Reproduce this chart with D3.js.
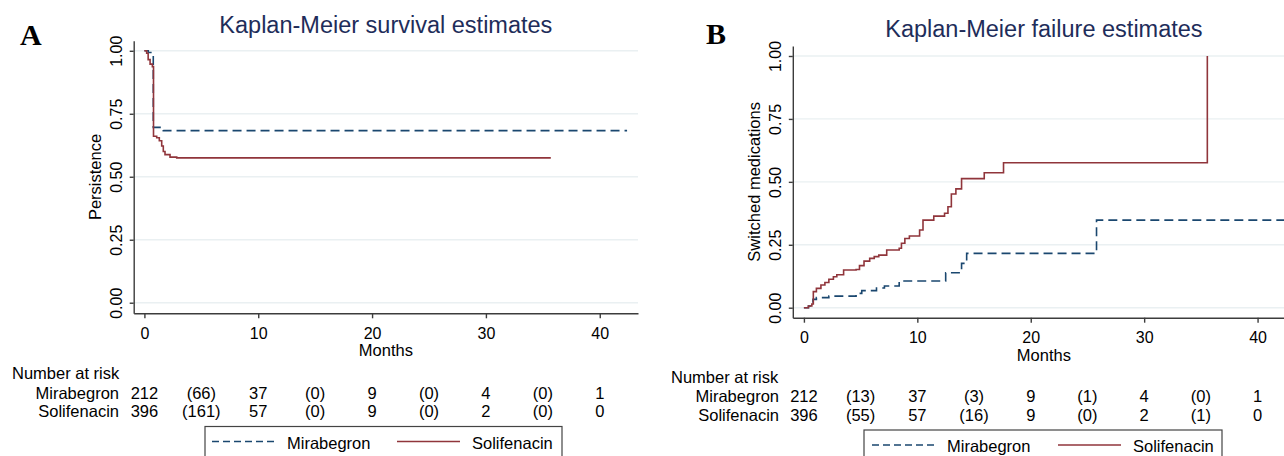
<!DOCTYPE html>
<html>
<head>
<meta charset="utf-8">
<script src="https://cdn.jsdelivr.net/npm/d3@7"></script>
<style>
    body { margin: 0; background: #fff; }
    svg { display: block; font-family: "Liberation Sans", Arial, sans-serif; }
</style>
</head>
<body>
<div id="chart"></div>
<script>
// ---- data ----
const groups = ['Mirabegron', 'Solifenacin'];
const xTicks = [0, 10, 20, 30, 40];
const yTicks = [0, 0.25, 0.5, 0.75, 1];
const riskTimes = [0, 5, 10, 15, 20, 25, 30, 35, 40];

// A: survival (persistence), step points {t: months, s: estimate}
const survMira = [
    { t: 0, s: 1 }, { t: 0.34, s: 0.993 }, { t: 0.78, s: 0.696 },
    { t: 1.66, s: 0.683 }, { t: 42.4, s: 0.683 }
];
const survSoli = [
    { t: 0, s: 1 }, { t: 0.2, s: 0.99 }, { t: 0.33, s: 0.965 }, { t: 0.5, s: 0.947 },
    { t: 0.7, s: 0.937 }, { t: 0.8, s: 0.661 }, { t: 1.08, s: 0.655 }, { t: 1.31, s: 0.643 },
    { t: 1.52, s: 0.622 }, { t: 1.66, s: 0.6 }, { t: 1.81, s: 0.588 }, { t: 2.25, s: 0.578 },
    { t: 2.84, s: 0.575 }, { t: 35.7, s: 0.575 }
];

// B: failure (switched medications)
const failMira = [
    { t: 0, s: 0 }, { t: 0.4, s: 0.007 }, { t: 0.8, s: 0.033 }, { t: 1.1, s: 0.04 },
    { t: 2.2, s: 0.046 }, { t: 4.6, s: 0.057 }, { t: 5.1, s: 0.068 }, { t: 6.4, s: 0.078 },
    { t: 7.1, s: 0.086 }, { t: 8.4, s: 0.106 }, { t: 12.5, s: 0.139 }, { t: 13.9, s: 0.176 },
    { t: 14.35, s: 0.216 }, { t: 25.8, s: 0.348 }, { t: 43.3, s: 0.348 }
];
const failSoli = [
    { t: 0, s: 0 }, { t: 0.4, s: 0.007 }, { t: 0.7, s: 0.015 }, { t: 0.83, s: 0.064 },
    { t: 1.1, s: 0.077 }, { t: 1.5, s: 0.09 }, { t: 1.85, s: 0.1 }, { t: 2.2, s: 0.113 },
    { t: 2.6, s: 0.123 }, { t: 2.9, s: 0.131 }, { t: 3.5, s: 0.15 }, { t: 4.6, s: 0.152 },
    { t: 4.9, s: 0.167 }, { t: 5.3, s: 0.185 }, { t: 5.8, s: 0.196 }, { t: 6.2, s: 0.203 },
    { t: 6.6, s: 0.209 }, { t: 7.3, s: 0.229 }, { t: 8.4, s: 0.236 }, { t: 8.6, s: 0.256 },
    { t: 8.9, s: 0.275 }, { t: 9.3, s: 0.285 }, { t: 10.2, s: 0.309 }, { t: 10.5, s: 0.348 },
    { t: 11.45, s: 0.364 }, { t: 12.4, s: 0.375 }, { t: 12.7, s: 0.401 }, { t: 13.0, s: 0.452 },
    { t: 13.4, s: 0.472 }, { t: 13.9, s: 0.513 }, { t: 15.9, s: 0.536 }, { t: 17.6, s: 0.576 },
    { t: 35.57, s: 1.0 }
];

// number at risk (censored counts in brackets)
const riskMiraA = ['212', '(66)', '37', '(0)', '9', '(0)', '4', '(0)', '1'];
const riskSoliA = ['396', '(161)', '57', '(0)', '9', '(0)', '2', '(0)', '0'];
const riskMiraB = ['212', '(13)', '37', '(3)', '9', '(1)', '4', '(0)', '1'];
const riskSoliB = ['396', '(55)', '57', '(16)', '9', '(0)', '2', '(1)', '0'];

const colors = { Mirabegron: '#1a476f', Solifenacin: '#90353b' };

class KMPlot {
    constructor(_config, _data) {
        this.config = _config;
        this.data = _data;
        this.initVis();
    }

    initVis() {
        let vis = this;
        let c = vis.config;

        vis.xScale = d3.scaleLinear()
            .domain([c.xMin, c.xMax])
            .range([c.left, c.right]);
        vis.yScale = d3.scaleLinear()
            .domain([c.yMin, c.yMax])
            .range([c.bottom, c.top]);

        vis.g = c.svg.append('g');

        // panel letter
        vis.g.append('text')
            .attr('x', c.letterX).attr('y', c.letterY)
            .attr('font-family', '"Liberation Serif", "Times New Roman", serif')
            .attr('font-weight', 'bold')
            .attr('font-size', 30)
            .text(c.letter);

        // title
        vis.g.append('text')
            .attr('x', (c.left + c.right) / 2).attr('y', c.titleY)
            .attr('text-anchor', 'middle')
            .attr('font-size', 23.5)
            .attr('fill', '#1e2d5a')
            .text(c.title);

        // gridlines
        vis.g.append('g')
            .selectAll('line')
            .data(yTicks)
            .join('line')
            .attr('x1', c.left).attr('x2', c.right)
            .attr('y1', d => vis.yScale(d)).attr('y2', d => vis.yScale(d))
            .attr('stroke', '#eaf0f2')
            .attr('stroke-width', 1.4);

        vis.renderVis();
    }

    renderVis() {
        let vis = this;
        let c = vis.config;

        let line = d3.line()
            .x(d => vis.xScale(d.t))
            .y(d => vis.yScale(d.s))
            .curve(d3.curveStepAfter);

        vis.g.selectAll('.curve')
            .data(vis.data)
            .join('path')
            .attr('class', 'curve')
            .attr('d', d => line(d.values))
            .attr('fill', 'none')
            .attr('stroke', d => colors[d.name])
            .attr('stroke-width', 1.6)
            .attr('stroke-dasharray', d => d.name === 'Mirabegron' ? '9,5' : null);

        // axes
        let xAxis = d3.axisBottom(vis.xScale)
            .tickValues(xTicks).tickSize(5).tickSizeOuter(0);
        let yAxis = d3.axisLeft(vis.yScale)
            .tickValues(yTicks).tickSize(4).tickSizeOuter(0)
            .tickFormat(d3.format('.2f'));

        let xAxisG = vis.g.append('g')
            .attr('transform', `translate(0,${c.bottom})`)
            .call(xAxis);
        xAxisG.selectAll('text')
            .attr('y', c.xLabelY - c.bottom).attr('dy', 0)
            .attr('font-size', 16).attr('fill', '#000')
            .attr('font-family', '"Liberation Sans", Arial, sans-serif');

        let yAxisG = vis.g.append('g')
            .attr('transform', `translate(${c.left},0)`)
            .call(yAxis);
        yAxisG.selectAll('text')
            .attr('x', 0).attr('dy', 0)
            .attr('transform', 'translate(-12,0) rotate(-90)')
            .attr('text-anchor', 'middle')
            .attr('font-size', 16).attr('fill', '#000')
            .attr('font-family', '"Liberation Sans", Arial, sans-serif');

        [xAxisG, yAxisG].forEach(a => {
            a.selectAll('path, line').attr('stroke', '#3c3c3c').attr('stroke-width', 1.4);
        });

        // axis titles
        vis.g.append('text')
            .attr('x', (c.left + c.right) / 2).attr('y', c.monthsY)
            .attr('text-anchor', 'middle')
            .attr('font-size', 16.5)
            .text('Months');

        vis.g.append('text')
            .attr('transform', `translate(${c.yTitleX},${(c.top + c.bottom) / 2}) rotate(-90)`)
            .attr('text-anchor', 'middle')
            .attr('font-size', 16.5)
            .text(c.yTitle);

        // number at risk table
        vis.g.append('text')
            .attr('x', c.riskLeft).attr('y', c.riskY[0])
            .attr('font-size', 16.5)
            .text('Number at risk');

        groups.forEach((name, i) => {
            let row = vis.g.append('g');
            row.append('text')
                .attr('x', c.riskLabelRight).attr('y', c.riskY[i + 1])
                .attr('text-anchor', 'end')
                .attr('font-size', 16.5)
                .text(name);
            row.selectAll('.cell')
                .data(c.risk[i])
                .join('text')
                .attr('class', 'cell')
                .attr('x', (d, j) => vis.xScale(riskTimes[j]))
                .attr('y', c.riskY[i + 1])
                .attr('text-anchor', 'middle')
                .attr('font-size', 16.5)
                .text(d => d);
        });

        // legend
        let lg = c.legend;
        let leg = vis.g.append('g');
        leg.append('rect')
            .attr('x', lg.x).attr('y', lg.y)
            .attr('width', lg.w).attr('height', 40)
            .attr('fill', '#fff')
            .attr('stroke', '#444').attr('stroke-width', 1.2);
        groups.forEach((name, i) => {
            let x0 = lg.x + lg.items[i];
            leg.append('line')
                .attr('x1', x0).attr('x2', x0 + 63)
                .attr('y1', lg.y + 15).attr('y2', lg.y + 15)
                .attr('stroke', colors[name])
                .attr('stroke-width', 1.5)
                .attr('stroke-dasharray', name === 'Mirabegron' ? '7,4' : null);
            leg.append('text')
                .attr('x', x0 + 75).attr('y', lg.y + 22)
                .attr('font-size', 16.5)
                .text(name);
        });
    }
}

const svg = d3.select('#chart')
    .append('svg')
    .attr('width', 1284)
    .attr('height', 456);

new KMPlot({
    svg: svg, letter: 'A', letterX: 20, letterY: 45,
    title: 'Kaplan-Meier survival estimates', titleY: 33,
    yTitle: 'Persistence', yTitleX: 100.5,
    left: 133.7, right: 638, top: 40.7, bottom: 313.3,
    xMin: -0.94, xMax: 43.36, yMin: -0.042, yMax: 1.04,
    xLabelY: 339, monthsY: 356,
    riskLeft: 12, riskLabelRight: 119, riskY: [378.5, 398.5, 416.5],
    risk: [riskMiraA, riskSoliA],
    legend: { x: 205, y: 426.5, w: 357, items: [7, 192] }
}, [
    { name: 'Mirabegron', values: survMira },
    { name: 'Solifenacin', values: survSoli }
]);

new KMPlot({
    svg: svg, letter: 'B', letterX: 706, letterY: 43.5,
    title: 'Kaplan-Meier failure estimates', titleY: 37,
    yTitle: 'Switched medications', yTitleX: 760,
    left: 792.8, right: 1295, top: 46, bottom: 317.7,
    xMin: -0.98, xMax: 43.3, yMin: -0.0397, yMax: 1.0397,
    xLabelY: 343.5, monthsY: 360.5,
    riskLeft: 671, riskLabelRight: 779, riskY: [383, 402, 420.5],
    risk: [riskMiraB, riskSoliB],
    legend: { x: 864, y: 430, w: 358, items: [8, 194] }
}, [
    { name: 'Mirabegron', values: failMira },
    { name: 'Solifenacin', values: failSoli }
]);
</script>
</body>
</html>
